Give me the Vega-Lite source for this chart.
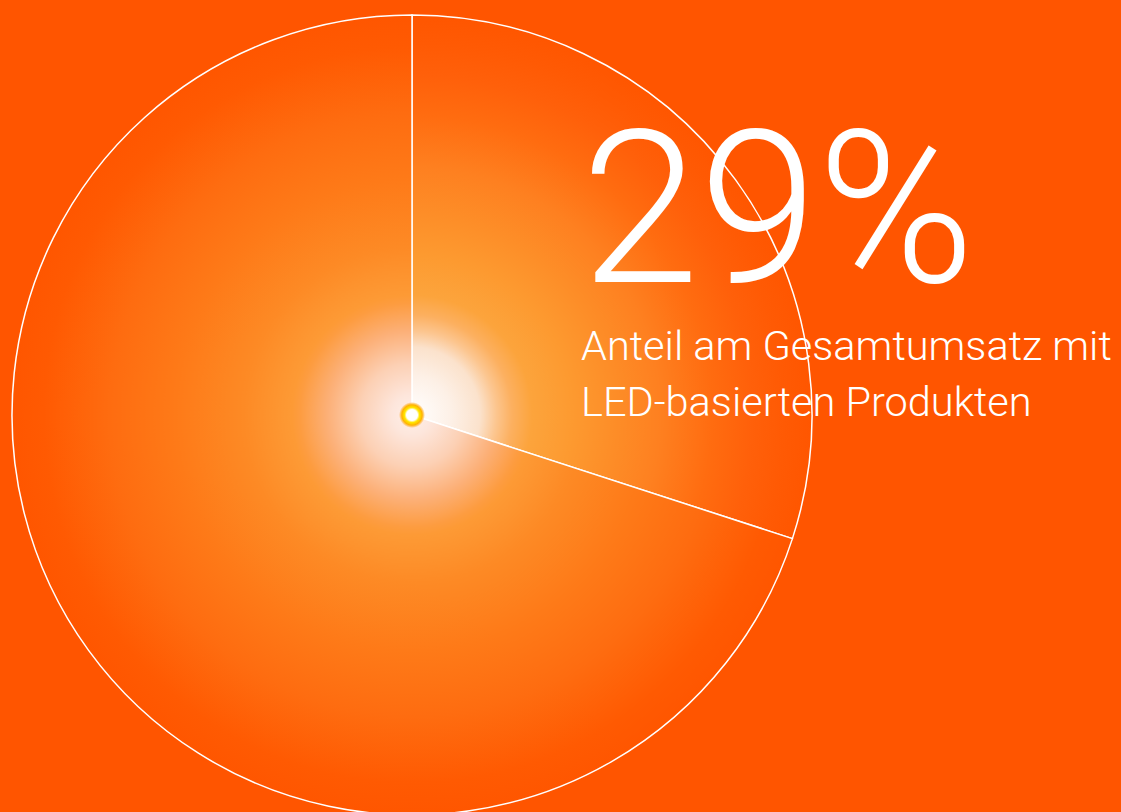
{
  "$schema": "https://vega.github.io/schema/vega-lite/v6.json",
  "width": 824,
  "height": 794,
  "autosize": {"type": "none"},
  "padding": {"left": 0, "top": 18, "right": 297, "bottom": 0},
  "background": "#ff5500",
  "view": {"stroke": null},
  "title": {
    "text": "29%",
    "subtitle": ["Anteil am Gesamtumsatz mit", "LED-basierten Produkten"],
    "anchor": "start",
    "frame": "group",
    "orient": "top",
    "offset": 0,
    "dx": 581,
    "dy": 414,
    "font": "Roboto",
    "fontSize": 213,
    "fontWeight": 300,
    "color": "#ffffff",
    "subtitleFont": "Roboto",
    "subtitleFontSize": 41.5,
    "subtitleFontWeight": 300,
    "subtitleColor": "#ffffff",
    "subtitleLineHeight": 56,
    "subtitlePadding": 0
  },
  "data": {
    "values": [
      {"segment": "LED-basierte Produkte", "anteil": 30},
      {"segment": "Übrige Produkte", "anteil": 70}
    ]
  },
  "layer": [
    {
      "mark": {"type": "arc", "radius": 400, "stroke": "#ffffff", "strokeWidth": 1.5},
      "encoding": {
        "theta": {"field": "anteil", "type": "quantitative"},
        "fill": {
          "condition": {
            "test": "datum.segment === 'LED-basierte Produkte'",
            "value": {
              "gradient": "radial",
              "x1": 0.118, "y1": 0.764, "r1": 0,
              "x2": 0.118, "y2": 0.764, "r2": 0.764,
              "stops": [
                {"offset": 0, "color": "#ffffff"},
                {"offset": 0.1, "color": "#fdf0e6"},
                {"offset": 0.17, "color": "#fbe2cc"},
                {"offset": 0.21, "color": "#fcc690"},
                {"offset": 0.25, "color": "#fcb060"},
                {"offset": 0.3, "color": "#fca43c"},
                {"offset": 0.4, "color": "#fd9a30"},
                {"offset": 0.5, "color": "#fd8e28"},
                {"offset": 0.62, "color": "#fe8020"},
                {"offset": 0.75, "color": "#ff6c10"},
                {"offset": 0.85, "color": "#ff600a"},
                {"offset": 0.93, "color": "#ff5a04"},
                {"offset": 1, "color": "#ff5600"}
              ]
            }
          },
          "value": {
            "gradient": "radial",
            "x1": 0.512, "y1": 0.5, "r1": 0,
            "x2": 0.512, "y2": 0.5, "r2": 0.5,
            "stops": [
              {"offset": 0, "color": "#fff0e8"},
              {"offset": 0.05, "color": "#fde6dc"},
              {"offset": 0.13, "color": "#fcd0b4"},
              {"offset": 0.21, "color": "#fcb078"},
              {"offset": 0.28, "color": "#fd9c40"},
              {"offset": 0.3, "color": "#fd9a35"},
              {"offset": 0.42, "color": "#fd8a25"},
              {"offset": 0.59, "color": "#fe7a18"},
              {"offset": 0.755, "color": "#fe6c10"},
              {"offset": 0.92, "color": "#ff5a02"},
              {"offset": 1, "color": "#ff5600"}
            ]
          }
        }
      }
    },
    {
      "data": {"values": [{"symbol": "Licht"}]},
      "mark": {
        "type": "arc",
        "theta": 0,
        "theta2": 6.2832,
        "radius": 13,
        "fill": {
          "gradient": "radial",
          "x1": 0.5, "y1": 0.5, "r1": 0,
          "x2": 0.5, "y2": 0.5, "r2": 0.5,
          "stops": [
            {"offset": 0, "color": "#ffffff"},
            {"offset": 0.42, "color": "#ffffff"},
            {"offset": 0.58, "color": "#ffe600"},
            {"offset": 0.78, "color": "#ffb400"},
            {"offset": 1, "color": "rgba(255,150,0,0)"}
          ]
        }
      },
      "encoding": {}
    }
  ]
}
